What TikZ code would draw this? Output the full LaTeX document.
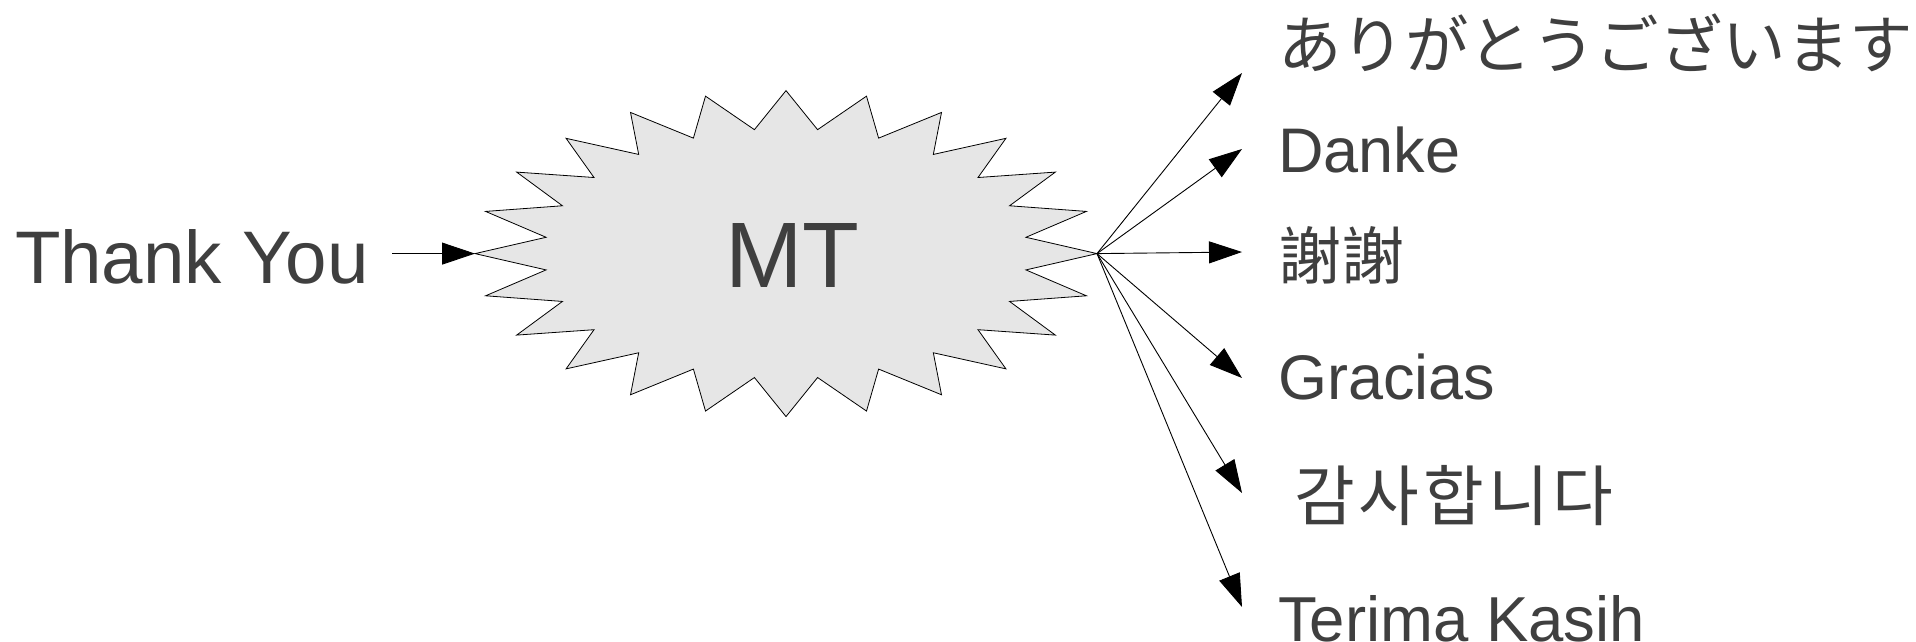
\documentclass[tikz,border=0pt]{standalone}
\usepackage{fontspec}
\setmainfont{Liberation Sans}
\newfontfamily\jpfont{Noto Sans CJK JP}
\newfontfamily\tcfont{Noto Sans CJK TC}
\newfontfamily\krfont[LetterSpace=6]{Noto Sans CJK KR}
\usetikzlibrary{arrows.meta}
\definecolor{txt}{HTML}{3F3F3F}
\definecolor{burstfill}{HTML}{E6E6E6}
\begin{document}
\begin{tikzpicture}[x=1pt,y=-1pt,
  lab/.style={inner sep=0pt, outer sep=0pt, text=txt, anchor=base west},
  arr/.style={draw=black, line width=0.9pt, -{Triangle[length=33pt,width=22pt]}},
  burst/.style={draw=black, line width=0.8pt, fill=burstfill, line join=miter}]
\useasboundingbox (0,0) rectangle (1916,642);
% starburst
\begin{scope}[shift={(786,253.6)}]
\draw[burst] (0:311 and 163)
  \foreach \i in {1,...,24} { -- ({15*\i-7.5}:242 and 125) -- ({15*\i}:311 and 163) } -- cycle;
\end{scope}
\coordinate (L) at (475,253.6);
\coordinate (R) at (1097,253.6);
\node[inner sep=0pt, text=txt, anchor=base] (mt) at (792.5,287.3) {\fontsize{93}{100}\selectfont MT};
% input
\node[lab] (ty) at (15,283.3) {\fontsize{74.5}{80}\selectfont Thank You};
\draw[arr, shorten <=24pt] (ty.east |- L) -- (L);
% outputs
\node[lab] (jp) at (1278,68.5) {\fontsize{63.5}{70}\jpfont ありがとうございます};
\node[lab] (de) at (1278,172) {\fontsize{63}{70}\selectfont Danke};
\node[lab] (zh) at (1278,279.5) {\fontsize{63}{70}\tcfont 謝謝};
\node[lab] (es) at (1278,399.6) {\fontsize{63}{70}\selectfont Gracias};
\node[lab] (ko) at (1294,520) {\fontsize{66}{70}\krfont 감사합니다};
\node[lab] (id) at (1278,641) {\fontsize{63.5}{70}\selectfont Terima Kasih};
\coordinate (tjp) at (1242,73);
\coordinate (tde) at (1242,149);
\coordinate (tzh) at (1242,252);
\coordinate (tes) at (1242,378);
\coordinate (tko) at (1242,493);
\coordinate (tid) at (1242,607);
\foreach \t in {tjp,tde,tzh,tes,tko,tid} { \draw[arr] (R) -- (\t); }
\end{tikzpicture}
\end{document}
